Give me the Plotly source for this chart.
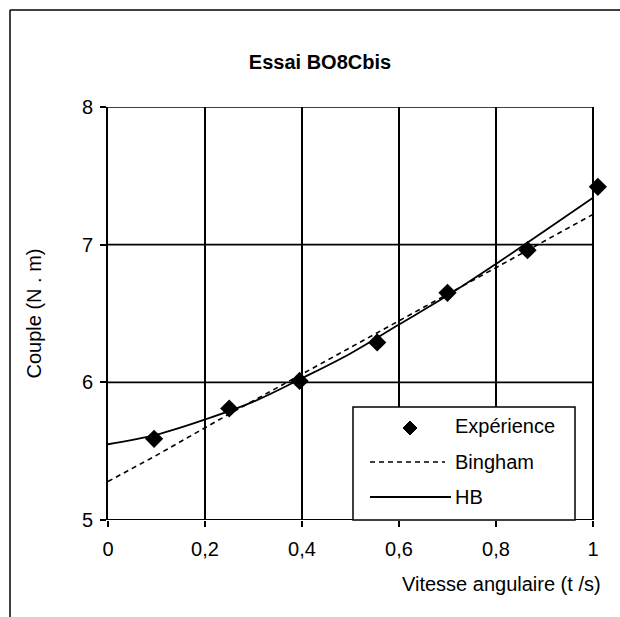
import plotly.graph_objects as go

# Measured torque vs angular speed
speed_exp = [0.095, 0.25, 0.395, 0.555, 0.70, 0.865, 1.01]
torque_exp = [5.59, 5.81, 6.01, 6.29, 6.65, 6.96, 7.42]

# Bingham model (straight segments between evaluated speeds)
speed_bingham = [0.0, 0.095, 0.25, 0.395, 0.555, 0.70, 0.865, 1.0]
torque_bingham = [5.28, 5.46, 5.77, 6.05, 6.36, 6.64, 6.96, 7.22]

# Herschel-Bulkley model
speed_hb = [0.0, 0.1, 0.2, 0.3, 0.4, 0.5, 0.6, 0.7, 0.8, 0.9, 1.0]
torque_hb = [5.55, 5.62, 5.73, 5.86, 6.03, 6.21, 6.42, 6.63, 6.86, 7.10, 7.34]

x_ticks = [0, 0.2, 0.4, 0.6, 0.8, 1.0]
x_tick_text = ["0", "0,2", "0,4", "0,6", "0,8", "1"]
y_ticks = [5, 6, 7, 8]

legend_labels = ["Expérience", "Bingham", "HB"]

FONT = "Liberation Sans, Arial, sans-serif"
W, H = 620, 617
ML, MR, MT, MB = 108, 12, 107, 97
PW, PH = W - ML - MR, H - MT - MB
GRID_W = 485                       # pixel width of the gridded area (0..1)
X_MIN, X_MAX = x_ticks[0], x_ticks[-1]
X_RANGE_MAX = X_MAX * PW / GRID_W  # room for the point just past x = 1


def px(x):
    return (x - ML) / PW


def py(y):
    return (H - MB - y) / PH


fig = go.Figure()

fig.add_trace(go.Scatter(
    x=speed_bingham, y=torque_bingham, mode="lines",
    line=dict(color="black", width=1.6, dash="5px,4px"),
    showlegend=False, hoverinfo="skip"))
fig.add_trace(go.Scatter(
    x=speed_hb, y=torque_hb, mode="lines",
    line=dict(color="black", width=1.8, shape="spline"),
    showlegend=False, hoverinfo="skip"))
fig.add_trace(go.Scatter(
    x=speed_exp, y=torque_exp, mode="markers",
    marker=dict(symbol="diamond", size=14, color="black"),
    cliponaxis=False, showlegend=False))

shapes = []
# horizontal grid lines, limited to the 0..1 span
for yv in y_ticks:
    shapes.append(dict(type="line", xref="x", yref="y",
                       x0=X_MIN, x1=X_MAX, y0=yv, y1=yv, layer="below",
                       line=dict(color="black",
                                 width=2 if yv == y_ticks[0] else 1.6)))

# outer frame (top and left edges)
shapes.append(dict(type="line", xref="paper", yref="paper",
                   x0=px(10), x1=px(W), y0=py(10), y1=py(10),
                   line=dict(color="black", width=1.5)))
shapes.append(dict(type="line", xref="paper", yref="paper",
                   x0=px(10), x1=px(10), y0=py(10), y1=py(H),
                   line=dict(color="black", width=1.5)))

# legend box
shapes.append(dict(type="rect", xref="paper", yref="paper",
                   x0=px(353), x1=px(575), y0=0, y1=py(407),
                   fillcolor="white", line=dict(color="black", width=1.5),
                   layer="above"))
# legend keys
d = 7
cx, cy = 410, 428
shapes.append(dict(type="path", xref="paper", yref="paper",
                   path=(f"M{px(cx)},{py(cy - d)} L{px(cx + d)},{py(cy)} "
                         f"L{px(cx)},{py(cy + d)} L{px(cx - d)},{py(cy)} Z"),
                   fillcolor="black", line=dict(color="black", width=1),
                   layer="above"))
shapes.append(dict(type="line", xref="paper", yref="paper",
                   x0=px(370), x1=px(445), y0=py(462), y1=py(462),
                   line=dict(color="black", width=1.6, dash="5px,4px"),
                   layer="above"))
shapes.append(dict(type="line", xref="paper", yref="paper",
                   x0=px(370), x1=px(451), y0=py(497), y1=py(497),
                   line=dict(color="black", width=1.8), layer="above"))

annotations = []
for label, yy in zip(legend_labels, [426, 462, 497]):
    annotations.append(dict(text=label, xref="paper", yref="paper",
                            x=px(453), y=py(yy), xanchor="left",
                            yanchor="middle", showarrow=False,
                            font=dict(family=FONT, size=20, color="black")))

annotations.append(dict(text="Couple (N . m)", xref="paper", yref="paper",
                        x=px(33), y=0.5, textangle=-90, showarrow=False,
                        xanchor="center", yanchor="middle",
                        font=dict(family=FONT, size=20, color="black")))
annotations.append(dict(text="Vitesse angulaire (t /s)", xref="paper",
                        yref="paper", x=px(603), y=py(584), showarrow=False,
                        xanchor="right", yanchor="middle",
                        font=dict(family=FONT, size=20, color="black")))

fig.update_layout(
    width=W, height=H,
    margin=dict(l=ML, r=MR, t=MT, b=MB),
    paper_bgcolor="white", plot_bgcolor="white",
    title=dict(text="<b>Essai BO8Cbis</b>", x=320 / W, xanchor="center",
               y=1 - 62 / H, yanchor="middle",
               font=dict(family=FONT, size=20, color="black")),
    shapes=shapes, annotations=annotations,
    showlegend=False,
    xaxis=dict(
        range=[X_MIN, X_RANGE_MAX],
        tickvals=x_ticks, ticktext=x_tick_text,
        showgrid=True, gridcolor="black", gridwidth=1.6,
        showline=False, zeroline=False,
        ticks="outside", ticklen=6, tickcolor="black", tickwidth=1.6,
        ticklabelstandoff=5,
        tickfont=dict(family=FONT, size=20, color="black")),
    yaxis=dict(
        range=[5, 8], tickvals=y_ticks,
        showgrid=False, zeroline=False,
        showline=True, linecolor="black", linewidth=2,
        ticks="outside", ticklen=6, tickcolor="black", tickwidth=1.6,
        ticklabelstandoff=3,
        tickfont=dict(family=FONT, size=20, color="black")),
)

fig.write_html("out.html")
